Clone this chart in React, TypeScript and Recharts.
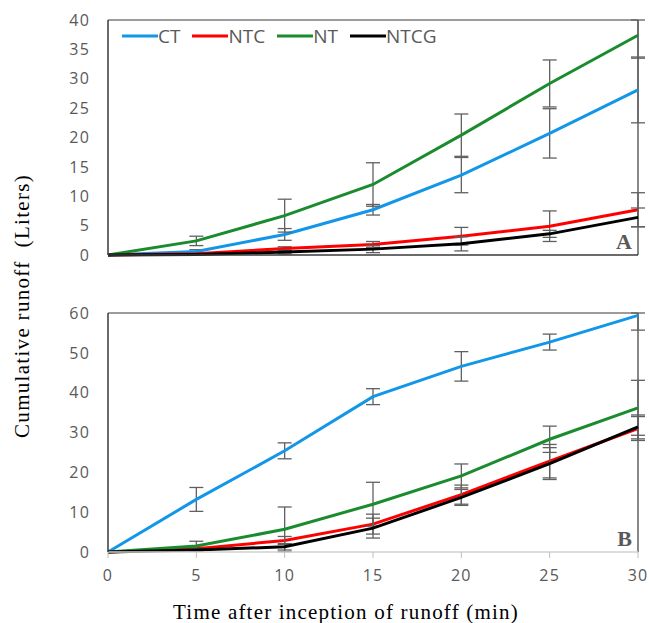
import React from 'react'
import {
  LineChart,
  Line,
  XAxis,
  YAxis,
  ErrorBar,
  ReferenceLine,
  ReferenceArea,
  Legend,
} from 'recharts'

// time after inception of runoff (min)
const time = [0, 5, 10, 15, 20, 25, 30]

// panel A
const ctA = [0, 0.6, 3.5, 7.7, 13.6, 20.7, 28.1]
const ntcA = [0, 0.2, 1.1, 1.8, 3.2, 4.9, 7.7]
const ntA = [0, 2.4, 6.7, 12.0, 20.4, 29.2, 37.4]
const ntcgA = [0, 0.1, 0.5, 1.0, 1.9, 3.6, 6.4]
// error bars, [below, above] where the plot frame cuts them off
const ctErrA = [null, 0.3, 1.0, 0.9, 3.0, 4.2, 5.6]
const ntcErrA = [null, null, 0.3, 0.5, 1.5, 2.6, 2.9]
const ntErrA = [null, 0.8, 2.8, 3.7, 3.6, 4.0, [3.9, 2.6]]
const ntcgErrA = [null, null, 0.3, 0.6, 1.2, 0.6, 1.6]

// panel B
const ctB = [0, 13.2, 25.4, 39.0, 46.6, 52.7, 59.4]
const ntcB = [0, 0.8, 2.9, 7.0, 14.4, 22.8, 31.0]
const ntB = [0, 1.5, 5.7, 12.0, 19.1, 28.3, 36.2]
const ntcgB = [0, 0.5, 1.3, 6.0, 13.7, 22.2, 31.4]
const ctErrB = [null, 3.0, 2.0, 2.0, 3.7, 2.0, [3.7, 0.6]]
const ntcErrB = [null, 0.4, 1.0, 2.5, 2.4, 4.2, 3.0]
const ntErrB = [null, 1.2, 5.6, 5.5, 3.0, 3.3, 6.9]
const ntcgErrB = [null, 0.3, 0.8, 2.5, 2.0, 4.0, 3.0]

const yTicksA = [0, 5, 10, 15, 20, 25, 30, 35, 40]
const yTicksB = [0, 10, 20, 30, 40, 50, 60]

const series = [
  { key: 'CT', color: '#1296e8' },
  { key: 'NTC', color: '#ff0000' },
  { key: 'NT', color: '#1a8c2e' },
  { key: 'NTCG', color: '#000000' },
]

const dataA = time.map((t, i) => ({
  t,
  CT: ctA[i], CTe: ctErrA[i],
  NTC: ntcA[i], NTCe: ntcErrA[i],
  NT: ntA[i], NTe: ntErrA[i],
  NTCG: ntcgA[i], NTCGe: ntcgErrA[i],
}))

const dataB = time.map((t, i) => ({
  t,
  CT: ctB[i], CTe: ctErrB[i],
  NTC: ntcB[i], NTCe: ntcErrB[i],
  NT: ntB[i], NTe: ntErrB[i],
  NTCG: ntcgB[i], NTCGe: ntcgErrB[i],
}))

const tickFont = { fill: '#595959', fontSize: 16, fontFamily: 'Open Sans', letterSpacing: 1.2 }
const frame = '#3a3a3a'

const LegendRow = () => (
  <div style={{ display: 'flex', alignItems: 'center', fontFamily: 'Open Sans', fontSize: 19, color: '#595959', lineHeight: '20px' }}>
    {series.map(s => (
      <div key={s.key} style={{ display: 'flex', alignItems: 'center', marginRight: 12 }}>
        <svg width={36} height={6}>
          <line x1={0} y1={3} x2={36} y2={3} stroke={s.color} strokeWidth={3} />
        </svg>
        <span>{s.key}</span>
      </div>
    ))}
  </div>
)

const renderLines = () =>
  series.map(s => (
    <Line
      key={s.key}
      type="linear"
      dataKey={s.key}
      stroke={s.color}
      strokeWidth={3}
      dot={false}
      isAnimationActive={false}
    >
      <ErrorBar dataKey={s.key + 'e'} width={7} stroke="#606060" strokeWidth={1.3} direction="y" isAnimationActive={false} />
    </Line>
  ))

export default function App() {
  return (
    <div style={{ position: 'absolute', left: 0, top: 0, width: 649, height: 623, background: '#fff' }}>
      <div style={{ position: 'absolute', left: 0, top: 0 }}>
        <LineChart width={649} height={280} data={dataA} margin={{ top: 20, right: 11, left: 0, bottom: 10 }}>
          <XAxis
            dataKey="t"
            type="number"
            domain={[0, 30]}
            ticks={time}
            tick={false}
            height={15}
            axisLine={{ stroke: frame, strokeWidth: 1.5 }}
            tickLine={{ stroke: '#bfbfbf' }}
          />
          <YAxis
            domain={[0, 40]}
            ticks={yTicksA}
            width={108}
            tick={tickFont}
            tickLine={false}
            tickMargin={12}
            axisLine={{ stroke: frame, strokeWidth: 1.5 }}
          />
          <ReferenceLine y={40} stroke={frame} strokeWidth={1.2} />
          <ReferenceLine x={30} stroke={frame} strokeWidth={1.2} />
          <ReferenceArea
            x1={0}
            x2={30}
            y1={0}
            y2={40}
            fill="none"
            stroke="none"
            label={{ value: 'A', position: 'insideBottomRight', offset: 6, fill: '#595959', fontSize: 22, fontWeight: 'bold', fontFamily: 'Liberation Serif' }}
          />
          {renderLines()}
          <Legend
            verticalAlign="middle"
            align="center"
            content={() => <LegendRow />}
            wrapperStyle={{ top: 26, left: 122, width: 380, height: 20 }}
          />
        </LineChart>
      </div>
      <div style={{ position: 'absolute', left: 0, top: 290 }}>
        <LineChart width={649} height={333} data={dataB} margin={{ top: 23, right: 11, left: 0, bottom: 41 }}>
          <XAxis
            dataKey="t"
            type="number"
            domain={[0, 30]}
            ticks={time}
            height={30}
            tick={tickFont}
            tickMargin={12}
            axisLine={{ stroke: '#d0d0d0', strokeWidth: 1.5 }}
            tickLine={{ stroke: '#bfbfbf' }}
          />
          <YAxis
            domain={[0, 60]}
            ticks={yTicksB}
            width={108}
            tick={tickFont}
            tickLine={false}
            tickMargin={12}
            axisLine={{ stroke: frame, strokeWidth: 1.5 }}
          />
          <ReferenceLine y={60} stroke={frame} strokeWidth={1.2} />
          <ReferenceLine x={30} stroke={frame} strokeWidth={1.2} />
          <ReferenceArea
            x1={0}
            x2={30}
            y1={0}
            y2={60}
            fill="none"
            stroke="none"
            label={{ value: 'B', position: 'insideBottomRight', offset: 6, fill: '#595959', fontSize: 22, fontWeight: 'bold', fontFamily: 'Liberation Serif' }}
          />
          {renderLines()}
        </LineChart>
      </div>
      <div
        style={{
          position: 'absolute',
          left: 22,
          top: 306,
          transform: 'translate(-50%, -50%) rotate(-90deg)',
          whiteSpace: 'nowrap',
          fontFamily: 'Liberation Serif',
          fontSize: 21,
          letterSpacing: 1.3,
          color: '#000',
        }}
      >
        Cumulative runoff&nbsp; (Liters)
      </div>
      <div
        style={{
          position: 'absolute',
          left: 346,
          top: 612,
          transform: 'translate(-50%, -50%)',
          whiteSpace: 'nowrap',
          fontFamily: 'Liberation Serif',
          fontSize: 21,
          letterSpacing: 1.2,
          color: '#000',
        }}
      >
        Time after inception of runoff (min)
      </div>
    </div>
  )
}
